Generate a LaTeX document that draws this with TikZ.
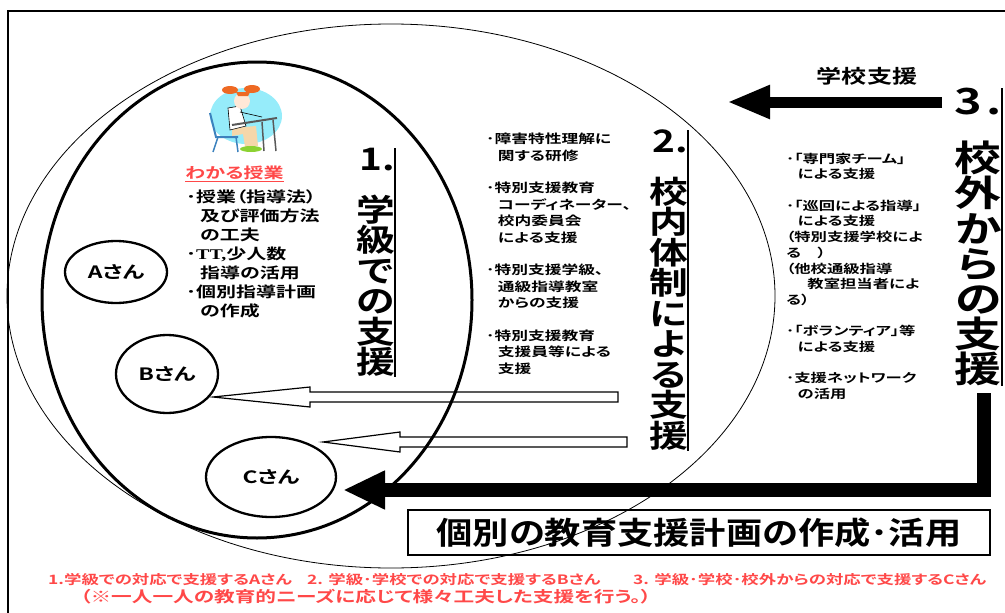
\documentclass[tikz,border=0pt]{standalone}
\usepackage{fontspec}
\usepackage{graphicx}
\setmainfont{Noto Sans CJK JP}[BoldFont={Noto Sans CJK JP Bold}, RawFeature=+palt]
\newfontfamily\romanTT{Liberation Serif}
\usetikzlibrary{arrows.meta,shapes.geometric}

\definecolor{notered}{RGB}{255,72,72}
\definecolor{blobcyan}{RGB}{150,236,250}
\definecolor{hairorange}{RGB}{238,105,35}
\definecolor{chairblue}{RGB}{60,130,190}
\definecolor{pantsbeige}{RGB}{245,215,170}
\definecolor{shoegreen}{RGB}{140,210,50}
\definecolor{skintone}{RGB}{255,232,215}

% horizontally stretched text, and the indent after a bullet
\newcommand\wide[2][1.35]{\scalebox{#1}[1]{#2}}
\newcommand\jsize[2]{\fontsize{#1}{#2}\selectfont\bfseries}
\newcommand\ind{\hspace{.7em}}

\tikzset{
  pupil/.style = {draw, ellipse, line width=2.3pt, inner sep=0pt,
                  font=\jsize{17}{20}},
  lst/.style   = {anchor=north west, inner sep=0pt},
  col/.style   = {anchor=north east, inner sep=0pt, align=center},
  tick/.style  = {line width=2pt},
  hol/.style   = {line width=1.2pt, line join=miter},
  ar/.style    = {line width=#1, -{Triangle[length=43pt, width=31pt]}},
  note/.style  = {anchor=west, inner sep=0pt, text=notered,
                  font=\jsize{12.9}{16}},
}

\begin{document}
\begin{tikzpicture}[x=1pt, y=-1pt]
\useasboundingbox (0,0) rectangle (1005,613);

% frame, open to the right and below
\draw[line width=1.3pt] (8,613) -- (8,11) -- (1005,11);

% school ring and class ring
\draw[line width=0.8pt] (391,296) ellipse [x radius=384, y radius=272];
\draw[line width=3pt] (257,300) ellipse [x radius=215, y radius=238];

% girl at her desk
\fill[blobcyan] (246,116) ellipse [x radius=36, y radius=28];
\draw[chairblue, line width=2pt] (210,113) -- (216,137) -- (238,137);
\draw[chairblue, line width=1.5pt] (218,137) -- (213,152) (236,137) -- (238,152);
\fill[pantsbeige] (232,128) -- (256,126) -- (258,146) -- (245,147) -- (243,134) -- (232,136) -- cycle;
\filldraw[fill=white, draw=black, line width=0.6pt] (228,108) -- (240,106) -- (246,126) -- (230,130) -- cycle;
\fill[skintone] (242,101) circle [radius=8];
\fill[hairorange] (230,90) ellipse [x radius=8, y radius=4];
\fill[hairorange] (252,89) ellipse [x radius=8, y radius=4];
\fill[hairorange] (236,92) -- (250,92) -- (248,96) -- (238,96) -- cycle;
\draw[black, line width=0.6pt] (240,112) -- (262,117);
\draw[gray!70!black, line width=2pt] (232,125) -- (277,118);
\draw[gray!70!black, line width=1.5pt] (273,120) -- (276,151) (262,122) -- (264,151);
\fill[shoegreen] (251,149) ellipse [x radius=11, y radius=3];

% pupils
\node[pupil, minimum width=102, minimum height=62] (A) at (116,272) {\wide{Aさん}};
\node[pupil, minimum width=102, minimum height=78] (B) at (167,374) {\wide{Bさん}};
\node[pupil, minimum width=130, minimum height=80] (C) at (271,477) {\wide{Cさん}};

% 1. support in the class
\node[lst, text=notered, font=\jsize{14.8}{18}] (wakaru) at (185,166)
     {\wide{\underline{わかる授業}}};
\node[lst, font=\jsize{14.8}{19}] (classList) at (186,189) {\wide{%
  \begin{tabular}{@{}l@{}}
  ･授業（指導法）\\
  \ind 及び評価方法\\
  \ind の工夫\\
  ･{\romanTT TT,}少人数\\
  \ind 指導の活用\\
  ･個別指導計画\\
  \ind の作成
  \end{tabular}}};
\node[col, xscale=1.25, font={\jsize{31}{30.5}\lineskiplimit=-20pt}] (c1) at (395,148)
     {\makebox[1em][r]{1.}\\[20pt]学\\級\\で\\の\\支\\援};
\draw[tick] (c1.north east) -- (c1.south east);

% 2. support inside the school
\node[lst, font=\jsize{12.4}{16.4}] (schoolList) at (486,132) {\wide{%
  \begin{tabular}{@{}l@{}}
  ･障害特性理解に\\
  \ind 関する研修\\[16.4pt]
  ･特別支援教育\\
  \ind コーディネーター、\\
  \ind 校内委員会\\
  \ind による支援\\[16.4pt]
  ･特別支援学級、\\
  \ind 通級指導教室\\
  \ind からの支援\\[16.4pt]
  ･特別支援教育\\
  \ind 支援員等による\\
  \ind 支援
  \end{tabular}}};
\node[col, xscale=1.25, font={\jsize{31}{30.5}\lineskiplimit=-20pt}] (c2) at (688,130)
     {\makebox[1em][r]{2.}\\[20pt]校\\内\\体\\制\\に\\よ\\る\\支\\援};
\draw[tick] (c2.north east) -- (c2.south east);

% 3. support from outside
\node[lst, font=\jsize{12.1}{15.7}] (outList) at (786,152) {\wide{%
  \begin{tabular}{@{}l@{}}
  ･「専門家チーム」\\
  \ind による支援\\[15.7pt]
  ･「巡回による指導」\\
  \ind による支援\\
  （特別支援学校によ\\
  る　）\\
  （他校通級指導\\
  \hspace{1.3em}教室担当者によ\\
  る）\\[15.7pt]
  ･「ボランティア」等\\
  \ind による支援\\[15.7pt]
  ･支援ネットワーク\\
  \ind の活用
  \end{tabular}}};
\node[col, xscale=1.3, font={\jsize{36}{35.2}\lineskiplimit=-20pt}] (c3) at (1002,88)
     {\makebox[1em]{3\hfill.}\\[21.8pt]校\\外\\か\\ら\\の\\支\\援};
\draw[tick] (c3.north east) -- (c3.south east);

% school support arrow
\node[font=\jsize{19}{22}] (schoolLbl) at (867,76) {\wide[1.32]{学校支援}};
\coordinate (fromOut) at (942,102);
\coordinate (toSchool) at (727,102);
\draw[ar=11pt] (fromOut) -- (toSchool);

% hollow arrows towards B and C
\coordinate (bTip) at (213,397);
\coordinate (cTip) at (323,442);
\draw[hol] (bTip) -- ++(97,-10) -- ++(0,5) -- ++(308,0) -- ++(0,10)
      -- ++(-308,0) -- ++(0,5) -- cycle;
\draw[hol] (cTip) -- ++(77,-10) -- ++(0,5) -- ++(227,0) -- ++(0,10)
      -- ++(-227,0) -- ++(0,5) -- cycle;

% individual plan arrow
\coordinate (planTop) at (984,393);
\coordinate (planTip) at (343,490);
\draw[ar=14pt, -{Triangle[length=42pt, width=36pt]}] (planTop) |- (planTip);
\node[draw, line width=2.5pt, minimum width=582, minimum height=45,
      inner sep=0pt, font=\jsize{31}{34}] (plan) at (699,532.5)
     {\wide[1.17]{個別の教育支援計画の作成･活用}};

% notes
\node[note] (n1) at (48,579.5) {\wide{1.学級での対応で支援するAさん}};
\node[note] (n2) at (307,579.5) {\wide{2. 学級･学校での対応で支援するBさん}};
\node[note] (n3) at (633,579.5) {\wide{3. 学級･学校･校外からの対応で支援するCさん}};
\node[note, font=\jsize{15.3}{18}] (n4) at (80,597)
     {\wide{（※一人一人の教育的ニーズに応じて様々工夫した支援を行う。）}};
\end{tikzpicture}
\end{document}
